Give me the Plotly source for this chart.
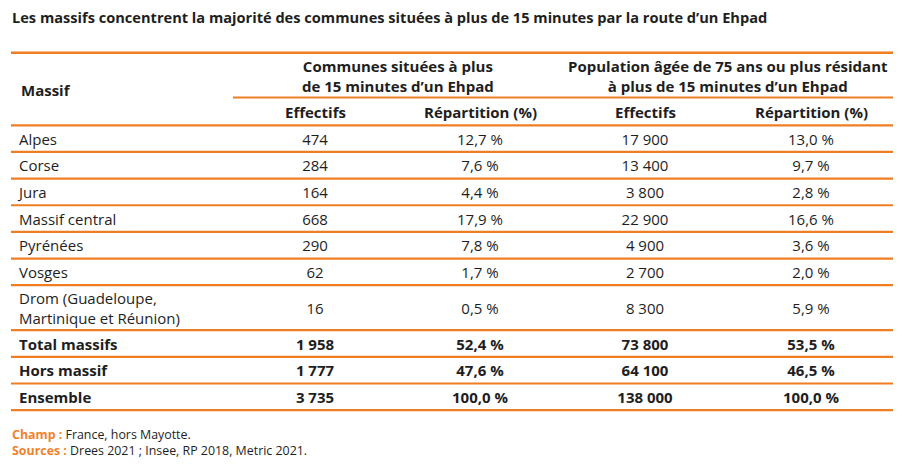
import plotly.graph_objects as go

# ---- data ----
massifs = ["Alpes", "Corse", "Jura", "Massif central", "Pyrénées", "Vosges",
           "Drom (Guadeloupe,<br>Martinique et Réunion)",
           "Total massifs", "Hors massif", "Ensemble"]
communes_effectifs = ["474", "284", "164", "668", "290", "62", "16", "1 958", "1 777", "3 735"]
communes_repartition = ["12,7 %", "7,6 %", "4,4 %", "17,9 %", "7,8 %", "1,7 %", "0,5 %",
                        "52,4 %", "47,6 %", "100,0 %"]
population_effectifs = ["17 900", "13 400", "3 800", "22 900", "4 900", "2 700", "8 300",
                        "73 800", "64 100", "138 000"]
population_repartition = ["13,0 %", "9,7 %", "2,8 %", "16,6 %", "3,6 %", "2,0 %", "5,9 %",
                          "53,5 %", "46,5 %", "100,0 %"]
bold_rows = ["Total massifs", "Hors massif", "Ensemble"]

title = "Les massifs concentrent la majorité des communes situées à plus de 15 minutes par la route d’un Ehpad"
group_headers = ["Communes situées à plus<br>de 15 minutes d’un Ehpad",
                 "Population âgée de 75 ans ou plus résidant<br>à plus de 15 minutes d’un Ehpad"]
sub_headers = ["Effectifs", "Répartition (%)", "Effectifs", "Répartition (%)"]
first_header = "Massif"
notes = ["<span style='color:#F0822E'><b>Champ :</b></span> France, hors Mayotte.",
         "<span style='color:#F0822E'><b>Sources :</b></span> Drees 2021 ; Insee, RP 2018, Metric 2021."]

# ---- layout geometry ----
W, H = 903, 464
OFF = 8  # page body margin
ORANGE = "#EF7D22"
TXT = "#1e1e1e"
FONT = "Open Sans"
FS = 15
TXT_DY = 2.3
x_left, x_right = 11, 893
col_centers = [315, 480, 645, 811]
group_centers = [398, 728]
body_top = 125.3
unit = 26.65
row_h = [45 if "<br>" in m else unit for m in massifs]
bounds = [body_top]
for h in row_h:
    bounds.append(bounds[-1] + h)
centers = [(bounds[i] + bounds[i + 1]) / 2 + TXT_DY for i in range(len(massifs))]

def fmt(v, name):
    return f"<b>{v}</b>" if name in bold_rows else v

fig = go.Figure()
fig.add_trace(go.Scatter(
    x=[19] * len(massifs), y=centers, mode="text",
    text=[fmt(m, m) for m in massifs], textposition="middle right",
    textfont=dict(family=FONT, size=FS, color=TXT), hoverinfo="skip"))
for cx, col in zip(col_centers, [communes_effectifs, communes_repartition,
                                 population_effectifs, population_repartition]):
    fig.add_trace(go.Scatter(
        x=[cx] * len(col), y=centers, mode="text",
        text=[fmt(v, m) for v, m in zip(col, massifs)], textposition="middle center",
        textfont=dict(family=FONT, size=FS, color=TXT), hoverinfo="skip"))

ann = []
ann.append(dict(x=10, y=17, text=f"<b>{title}</b>", xanchor="left", yanchor="middle",
                font=dict(family=FONT, size=14.6, color=TXT)))
ann.append(dict(x=19, y=90, text=f"<b>{first_header}</b>", xanchor="left", yanchor="middle",
                font=dict(family=FONT, size=FS, color=TXT)))
for gx, g in zip(group_centers, group_headers):
    ann.append(dict(x=gx, y=76, text=f"<b>{g}</b>", xanchor="center", yanchor="middle",
                    font=dict(family=FONT, size=FS, color=TXT)))
for cx, s in zip(col_centers, sub_headers):
    ann.append(dict(x=cx, y=112, text=f"<b>{s}</b>", xanchor="center", yanchor="middle",
                    font=dict(family=FONT, size=FS, color=TXT)))
ann.append(dict(x=10, y=442, text="<br>".join(notes), xanchor="left", yanchor="middle",
                align="left", font=dict(family=FONT, size=12.4, color=TXT)))
for a in ann:
    a.update(xref="x", yref="y", showarrow=False)

shapes = []
def hline(y, x0=x_left, x1=x_right, w=2.2):
    shapes.append(dict(type="line", xref="x", yref="y", x0=x0, x1=x1, y0=y, y1=y,
                       line=dict(color=ORANGE, width=w)))
hline(52.7, w=2.6)
hline(97.5, x0=233)
for b in bounds:
    hline(b)

fig.update_layout(
    width=W - OFF, height=H - OFF, margin=dict(l=0, r=0, t=0, b=0),
    paper_bgcolor="white", plot_bgcolor="white", showlegend=False,
    xaxis=dict(range=[OFF, W], visible=False, fixedrange=True),
    yaxis=dict(range=[H, OFF], visible=False, fixedrange=True),
    annotations=ann, shapes=shapes)
fig.write_html("out.html")
